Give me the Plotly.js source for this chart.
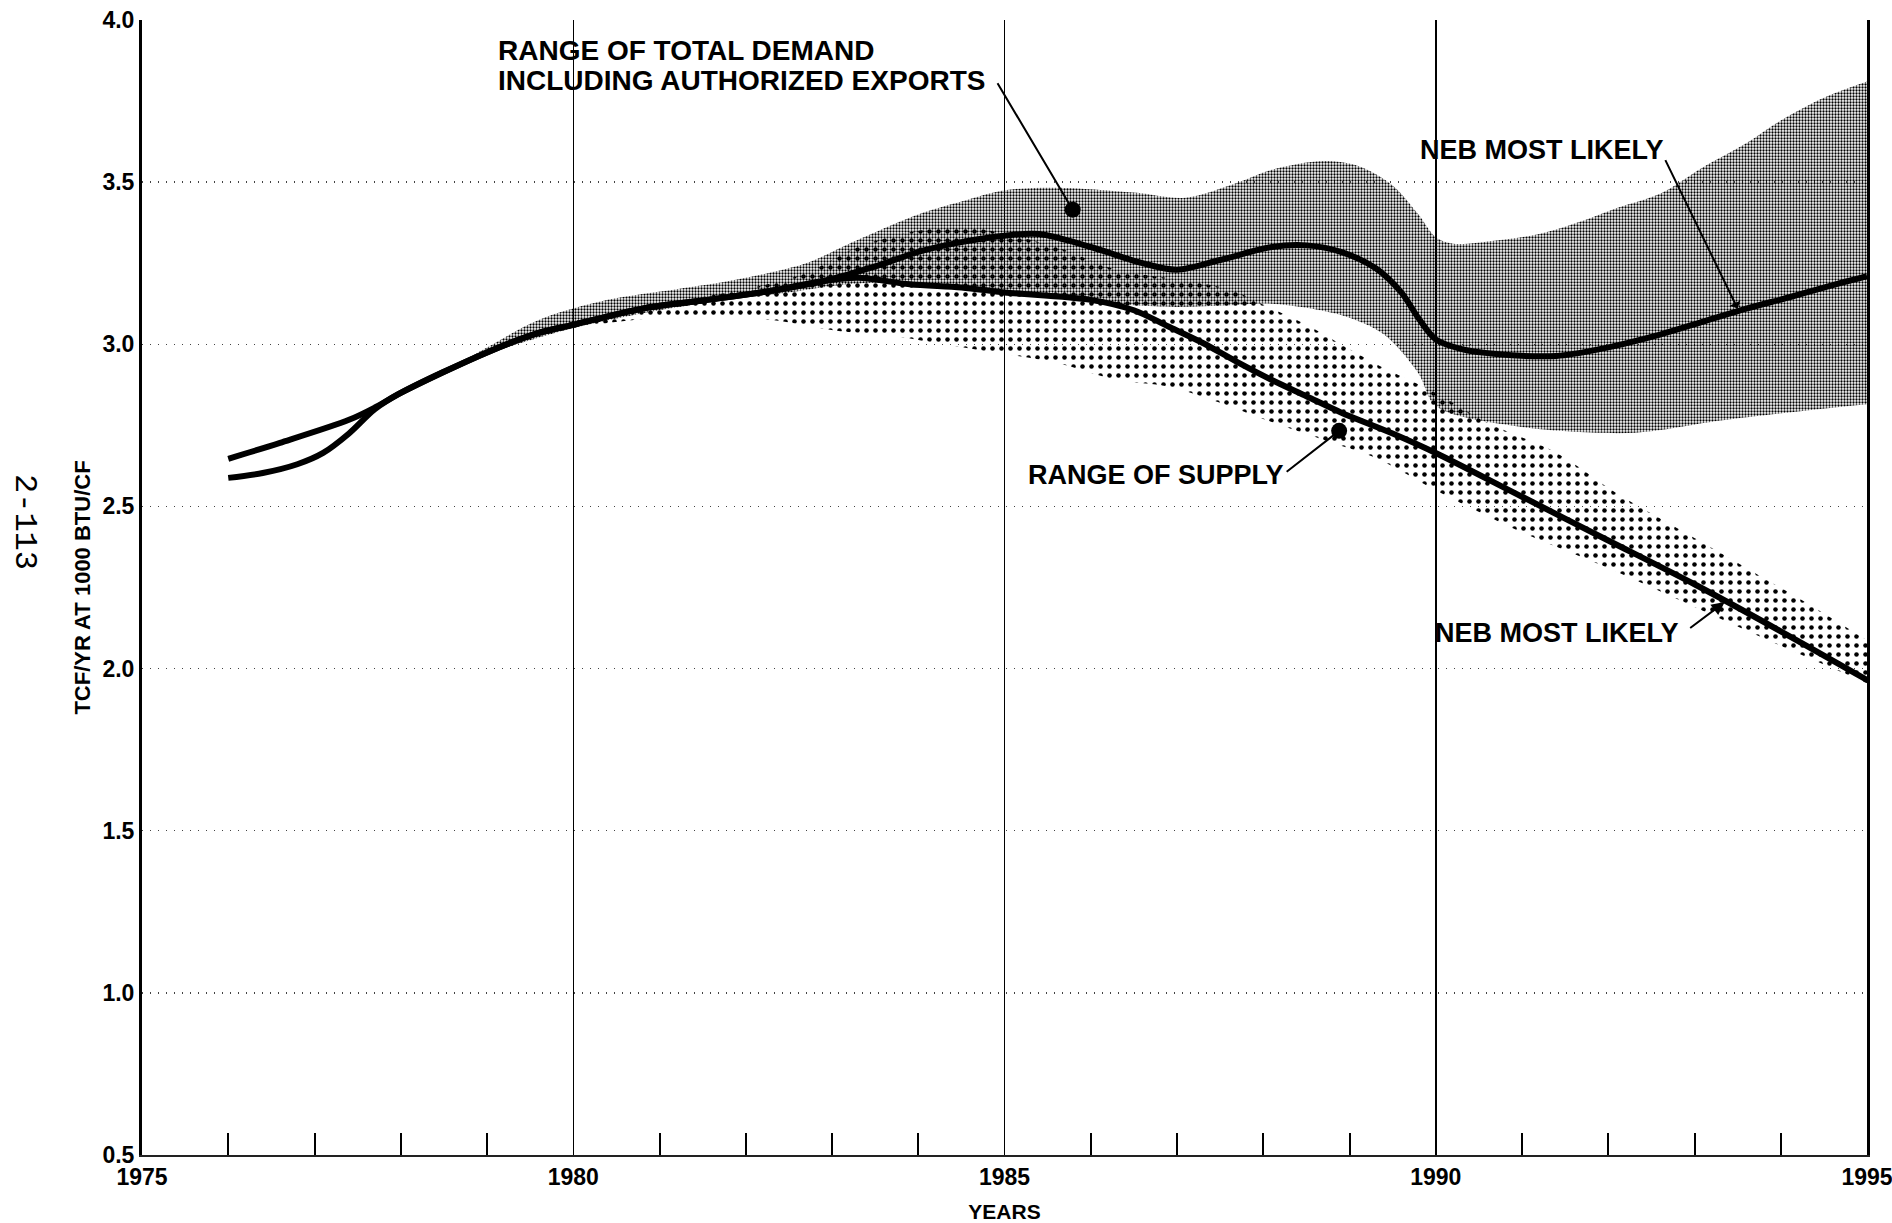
<!DOCTYPE html>
<html>
<head>
<meta charset="utf-8">
<script src="https://cdn.plot.ly/plotly-3.0.1.min.js"></script>
<style>
  html, body { margin: 0; padding: 0; background: #ffffff; }
  #chart { width: 1892px; height: 1223px; }
</style>
</head>
<body>
<div id="chart"></div>
<script>
// NEB most likely total demand including authorized exports (TCF/yr)
const demandYears = [1976.0, 1976.6, 1977.4, 1977.7, 1978.0, 1979.0, 1979.6, 1980.0, 1980.8, 1981.5, 1982.3, 1982.9,
  1983.5, 1984.0, 1984.5, 1985.0, 1985.4, 1986.0, 1986.6, 1987.0, 1987.5, 1988.1, 1988.5, 1988.9, 1989.3, 1989.6,
  1989.8, 1990.0, 1990.3, 1990.7, 1991.4, 1991.9, 1992.6, 1993.1, 1993.6, 1994.1, 1994.5, 1995.0];
const demandValues = [2.647, 2.696, 2.767, 2.805, 2.85, 2.975, 3.035, 3.06, 3.11, 3.135, 3.165, 3.195,
  3.24, 3.285, 3.315, 3.335, 3.34, 3.30, 3.25, 3.23, 3.26, 3.30, 3.305, 3.285, 3.235, 3.16,
  3.08, 3.015, 2.985, 2.97, 2.964, 2.985, 3.03, 3.07, 3.11, 3.145, 3.175, 3.21];

// NEB most likely supply (TCF/yr)
const supplyYears = [1976.0, 1976.4, 1976.8, 1977.1, 1977.4, 1977.7, 1978.0, 1979.0, 1979.6, 1980.0, 1980.8, 1981.5,
  1982.3, 1982.9, 1983.3, 1983.9, 1984.5, 1985.0, 1986.0, 1986.5, 1986.9, 1987.3, 1987.7, 1988.1, 1988.5, 1988.9,
  1989.5, 1990.0, 1991.0, 1992.0, 1993.0, 1994.0, 1995.0];
const supplyValues = [2.588, 2.603, 2.63, 2.665, 2.725, 2.80, 2.85, 2.975, 3.035, 3.06, 3.11, 3.135,
  3.165, 3.195, 3.205, 3.185, 3.175, 3.16, 3.137, 3.105, 3.055, 3.004, 2.945, 2.89, 2.84, 2.79,
  2.725, 2.665, 2.53, 2.395, 2.26, 2.115, 1.965];

// Range of total demand: upper and lower bounds
const demandHighYears = [1978.6, 1979.0, 1979.6, 1980.4, 1981.2, 1981.9, 1982.7, 1983.2, 1984.0, 1984.5, 1985.0,
  1985.6, 1986.5, 1987.1, 1987.7, 1988.1, 1988.7, 1989.1, 1989.5, 1989.8, 1990.0, 1990.2, 1990.7, 1991.2, 1991.7,
  1992.1, 1992.6, 1993.1, 1993.6, 1994.0, 1994.5, 1995.0];
const demandHighValues = [2.93, 2.99, 3.075, 3.137, 3.17, 3.20, 3.25, 3.31, 3.40, 3.44, 3.475,
  3.483, 3.468, 3.452, 3.498, 3.538, 3.565, 3.55, 3.49, 3.40, 3.33, 3.31, 3.32, 3.34, 3.38,
  3.42, 3.464, 3.546, 3.62, 3.69, 3.76, 3.81];
const demandLowYears = [1978.6, 1979.0, 1980.0, 1981.0, 1982.0, 1982.5, 1983.0, 1983.5, 1984.0, 1985.0, 1986.0,
  1986.5, 1987.0, 1987.6, 1988.1, 1988.9, 1989.4, 1989.8, 1990.0, 1991.0, 1992.1, 1992.5, 1993.3, 1994.1, 1995.0];
const demandLowValues = [2.93, 2.97, 3.05, 3.105, 3.145, 3.16, 3.18, 3.19, 3.18, 3.16, 3.13,
  3.12, 3.115, 3.12, 3.125, 3.09, 3.03, 2.91, 2.81, 2.745, 2.726, 2.732, 2.765, 2.79, 2.815];

// Range of supply: upper and lower bounds
const supplyHighYears = [1979.0, 1980.0, 1981.0, 1982.0, 1982.7, 1983.3, 1984.0, 1984.6, 1985.0, 1985.6, 1986.3,
  1987.0, 1987.6, 1988.1, 1988.5, 1988.9, 1989.3, 1990.0, 1990.6, 1991.4, 1992.1, 1992.9, 1993.7, 1994.5, 1995.0];
const supplyHighValues = [2.985, 3.07, 3.125, 3.17, 3.22, 3.30, 3.35, 3.36, 3.34, 3.30, 3.23,
  3.20, 3.17, 3.11, 3.06, 3.0, 2.94, 2.85, 2.758, 2.665, 2.54, 2.418, 2.295, 2.17, 2.087];
const supplyLowYears = [1979.0, 1980.0, 1981.2, 1982.3, 1983.1, 1983.6, 1984.2, 1985.0, 1985.6, 1986.3, 1986.9,
  1987.5, 1988.1, 1988.7, 1989.3, 1990.0, 1991.0, 1992.0, 1993.0, 1994.0, 1995.0];
const supplyLowValues = [2.985, 3.05, 3.085, 3.075, 3.04, 3.03, 3.004, 2.97, 2.943, 2.89, 2.87,
  2.82, 2.76, 2.705, 2.65, 2.55, 2.42, 2.31, 2.19, 2.07, 1.955];

const BOLD = 'Liberation Sans, Arial, Helvetica, sans-serif';

function edge(x, y) {
  return { x: x, y: y, mode: 'lines', line: { width: 0, shape: 'spline', smoothing: 0.9 },
           hoverinfo: 'skip', showlegend: false };
}
function band(x, y, pattern) {
  return { x: x, y: y, mode: 'lines', fill: 'tonexty', fillpattern: pattern,
           line: { width: 0, shape: 'spline', smoothing: 0.9 }, hoverinfo: 'skip', showlegend: false };
}
function thick(x, y) {
  return { x: x, y: y, mode: 'lines', line: { color: '#000', width: 6, shape: 'spline', smoothing: 0.9 },
           hoverinfo: 'skip', showlegend: false };
}

const traces = [
  edge(demandLowYears, demandLowValues),
  band(demandHighYears, demandHighValues,
       { shape: '.', size: 3, solidity: 0.45, fgcolor: '#000', bgcolor: 'rgba(0,0,0,0)' }),
  edge(supplyLowYears, supplyLowValues),
  band(supplyHighYears, supplyHighValues,
       { shape: '.', size: 9, solidity: 0.2, fgcolor: '#000', bgcolor: 'rgba(0,0,0,0)' }),
  thick(demandYears, demandValues),
  thick(supplyYears, supplyValues)
];

const labelFont = { family: BOLD, size: 27, weight: 700, color: '#000' };
const tickFont = { family: BOLD, size: 23, weight: 700, color: '#000' };
const dotArrow = { xref: 'x', yref: 'y', text: '', showarrow: true,
                   arrowhead: 6, arrowsize: 2, arrowwidth: 2, arrowcolor: '#000' };

const layout = {
  width: 1892, height: 1223,
  margin: { l: 142, r: 25, t: 20, b: 68 },
  paper_bgcolor: '#ffffff', plot_bgcolor: '#ffffff',
  showlegend: false,
  xaxis: {
    range: [1975, 1995], tickmode: 'linear', tick0: 1975, dtick: 5,
    ticks: '', showgrid: true, gridcolor: '#000', gridwidth: 1.5,
    showline: true, linecolor: '#222', linewidth: 2, zeroline: false,
    tickfont: tickFont, ticklabeloverflow: 'allow',
    title: { text: 'YEARS', font: { family: BOLD, size: 21, weight: 700, color: '#000' }, standoff: 16 },
    minor: { tickmode: 'linear', tick0: 1975, dtick: 1, ticks: 'inside', ticklen: 22, tickwidth: 2,
             tickcolor: '#000', showgrid: false }
  },
  yaxis: {
    range: [0.5, 4.0], tickmode: 'linear', tick0: 0.5, dtick: 0.5, tickformat: '.1f',
    ticks: '', showgrid: true, gridcolor: '#444', gridwidth: 1.3, griddash: '1px,7px',
    showline: true, mirror: true, linecolor: '#000', linewidth: 3, zeroline: false,
    tickfont: tickFont, ticklabeloverflow: 'allow',
    title: { text: 'TCF/YR AT 1000 BTU/CF', font: { family: BOLD, size: 22, weight: 700, color: '#000' }, standoff: 6 }
  },
  annotations: [
    { x: 1979.10, y: 3.907, xref: 'x', yref: 'y', xanchor: 'left', yanchor: 'middle',
      text: 'RANGE OF TOTAL DEMAND', showarrow: false, font: Object.assign({}, labelFont, { size: 28 }) },
    { x: 1979.10, y: 3.814, xref: 'x', yref: 'y', xanchor: 'left', yanchor: 'middle',
      text: 'INCLUDING AUTHORIZED EXPORTS', showarrow: false, font: Object.assign({}, labelFont, { size: 28 }) },
    Object.assign({ x: 1985.79, y: 3.415, ax: -76, ay: -128 }, dotArrow),

    { x: 1989.79, y: 3.60, xref: 'x', yref: 'y', xanchor: 'left', yanchor: 'middle',
      text: 'NEB MOST LIKELY', showarrow: false, font: labelFont },
    { x: 1993.5, y: 3.11, xref: 'x', yref: 'y', text: '', showarrow: true,
      arrowhead: 1, arrowsize: 1, arrowwidth: 2, arrowcolor: '#000', ax: -73, ay: -150 },

    { x: 1985.25, y: 2.597, xref: 'x', yref: 'y', xanchor: 'left', yanchor: 'middle',
      text: 'RANGE OF SUPPLY', showarrow: false, font: labelFont },
    Object.assign({ x: 1988.88, y: 2.733, ax: -54, ay: 42 }, dotArrow),

    { x: 1989.97, y: 2.110, xref: 'x', yref: 'y', xanchor: 'left', yanchor: 'middle',
      text: 'NEB MOST LIKELY', showarrow: false, font: labelFont },
    { x: 1993.35, y: 2.205, xref: 'x', yref: 'y', text: '', showarrow: true,
      arrowhead: 2, arrowsize: 1.3, arrowwidth: 2, arrowcolor: '#000', ax: -36, ay: 27 },

    { x: -0.068, y: 0.558, xref: 'paper', yref: 'paper', xanchor: 'center', yanchor: 'middle',
      text: '2-113', textangle: 90, showarrow: false,
      font: { family: 'Liberation Mono, DejaVu Sans Mono, monospace', size: 32, color: '#000' } }
  ]
};

Plotly.newPlot('chart', traces, layout, { displayModeBar: false, staticPlot: true });
</script>
</body>
</html>
